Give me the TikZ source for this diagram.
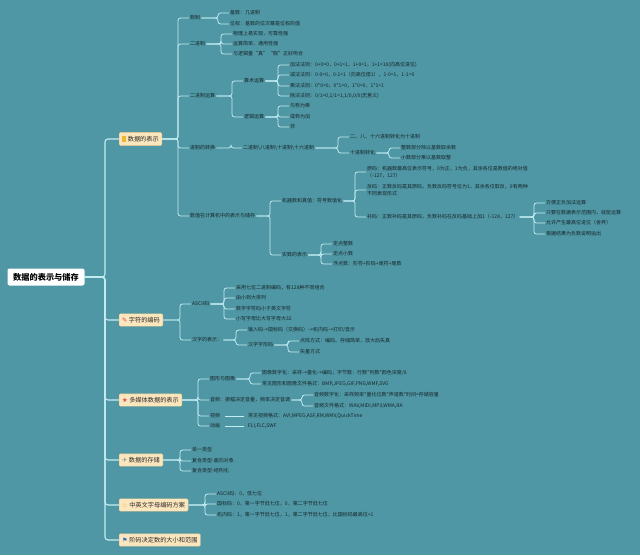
\documentclass[tikz,border=0pt]{standalone}
\usepackage{fontspec}
\setmainfont{Noto Sans CJK SC}
\newfontfamily\symf{DejaVu Sans}
\usetikzlibrary{calc}
\definecolor{bg}{HTML}{4F97A4}
\definecolor{lnc}{HTML}{C4ECF3}
\definecolor{txt}{HTML}{17262B}
\definecolor{boxfill}{HTML}{FBE6BE}
\definecolor{boxline}{HTML}{E3C58C}
\definecolor{boxtxt}{HTML}{2B2B2B}
\definecolor{iconyel}{HTML}{F2B430}
\definecolor{iconred}{HTML}{E0463A}
\definecolor{iconblue}{HTML}{2F6FC0}
\definecolor{icongray}{HTML}{7A8C96}
\tikzset{
  t/.style={anchor=west, inner xsep=1pt, inner ysep=0.5pt, font=\fontsize{5}{7}\selectfont, text=txt, align=left},
  box/.style={anchor=west, fill=boxfill, draw=boxline, line width=0.4pt, rounded corners=1.2pt, inner xsep=3pt, minimum height=12pt, font=\fontsize{6.2}{7}\selectfont, text=boxtxt},
  rootbox/.style={fill=white, rounded corners=2pt, minimum width=77pt, minimum height=17pt, font=\fontsize{8.2}{9}\selectfont\bfseries, text=black},
  conn/.style={draw=lnc, line width=0.8pt, rounded corners=2.5pt},
  mainconn/.style={draw=lnc, line width=1.1pt, rounded corners=3pt}
}
\newcommand\lk[3][11pt]{\draw[conn] (#2.east) -| ([xshift=-#1]#3.west) -- (#3.west);}
\newcommand\mlk[2]{\draw[mainconn] (#1.east) -| ([xshift=-14pt]#2.west) -- (#2.west);}
\newcommand\icbars{{\color{iconyel}\rule{1.4pt}{6pt}\hspace{0.8pt}\rule{1.4pt}{6pt}}\hspace{2pt}}
\newcommand\icsym[2]{{\symf\color{#1}#2}\hspace{1.5pt}}
\begin{document}
\begin{tikzpicture}[x=1pt,y=-1pt]
\fill[bg] (0,0) rectangle (640,555);
\useasboundingbox (0,0) rectangle (640,555);

% root
\node[rootbox] (root) at (46,277) {数据的表示与储存};

% branch boxes
\node[box] (b1) at (119,139) {\icbars 数据的表示};
\node[box] (b2) at (119,320) {\icsym{iconred}{✎}字符的编码};
\node[box] (b3) at (119,400) {\icsym{iconred}{★}多媒体数据的表示};
\node[box] (b4) at (119,460) {\icsym{icongray}{✈}数据的存储};
\node[box] (b5) at (119,505) {\icsym{iconyel}{☆}中英文字母编码方案};
\node[box] (b6) at (119,540) {\icsym{iconblue}{⚑}阶码决定数的大小和范围};

\mlk{root}{b1}
\mlk{root}{b2}
\mlk{root}{b3}
\mlk{root}{b4}
\mlk{root}{b5}
\mlk{root}{b6}

% ---------- branch 1
\node[t] (a1) at (189,18) {数制};
\node[t] (a11) at (229,13) {基数：几进制};
\node[t] (a12) at (229,24) {位权：基数的位次幂是位权的值};
\node[t] (a2) at (189,44) {二进制};
\node[t] (a21) at (232,34) {物理上易实现，可靠性强};
\node[t] (a22) at (232,44) {运算简单，通用性强};
\node[t] (a23) at (232,54) {与逻辑量“真”“假”正好吻合};
\node[t] (a3) at (189,96) {二进制运算};
\node[t] (a31) at (243,81) {算术运算};
\node[t] (a311) at (289,65) {加法法则：0+0=0，0+1=1，1+0=1，1+1=10(向高位进位)};
\node[t] (a312) at (289,75) {减法法则：0-0=0，0-1=1（向高位借1），1-0=1，1-1=0};
\node[t] (a313) at (289,86) {乘法法则：0*0=0，0*1=0，1*0=0，1*1=1};
\node[t] (a314) at (289,96) {除法法则：0/1=0,1/1=1,1/0,0/0(无意义)};
\node[t] (a32) at (243,117) {逻辑运算};
\node[t] (a321) at (289,106) {与称为乘};
\node[t] (a322) at (289,117) {或称为加};
\node[t] (a323) at (289,127) {非};
\node[t] (a4) at (189,148) {进制的转换};
\node[t] (a41) at (242,148) {二进制\textbackslash 八进制\textbackslash 十进制\textbackslash 十六进制};
\node[t] (a411) at (349,137) {二、八、十六进制转化为十进制};
\node[t] (a412) at (349,153) {十进制转化};
\node[t] (a4121) at (400,148) {整数部分除以基数取余数};
\node[t] (a4122) at (400,158) {小数部分乘以基数取整};
\node[t] (a5) at (189,216) {数值在计算机中的表示与储存};
\node[t] (a51) at (281,201) {机器数和真值：符号数值化};
\node[t] (a511) at (366,172) {原码：机器数最高位表示符号，0为正，1为负，其余各位是数值的绝对值\\（-127，127）};
\node[t] (a512) at (366,190) {反码：正数反码是其原码，负数反码符号位为1，其余各位取反，0有两种\\不同表现形式};
\node[t] (a513) at (366,217) {补码：正数补码是其原码，负数补码在反码基础上加1（-128，127）};
\node[t] (a5131) at (545,203) {方便正负加法运算};
\node[t] (a5132) at (545,213) {只要在数据表示范围内，就能运算};
\node[t] (a5133) at (545,223) {允许产生最高位进位（舍弃）};
\node[t] (a5134) at (545,234) {根据结果为负数说明溢出};
\node[t] (a52) at (281,255) {实数的表示};
\node[t] (a521) at (332,244) {定点整数};
\node[t] (a522) at (332,254) {定点小数};
\node[t] (a523) at (332,264) {浮点数：阶符+阶码+尾符+尾数};

\lk{b1}{a1} \lk{b1}{a2} \lk{b1}{a3} \lk{b1}{a4} \lk{b1}{a5}
\lk{a1}{a11} \lk{a1}{a12}
\lk{a2}{a21} \lk{a2}{a22} \lk{a2}{a23}
\lk{a3}{a31} \lk{a3}{a32}
\lk{a31}{a311} \lk{a31}{a312} \lk{a31}{a313} \lk{a31}{a314}
\lk{a32}{a321} \lk{a32}{a322} \lk{a32}{a323}
\lk{a4}{a41}
\lk{a41}{a411} \lk{a41}{a412}
\lk{a412}{a4121} \lk{a412}{a4122}
\lk{a5}{a51} \lk{a5}{a52}
\lk{a51}{a511} \lk{a51}{a512} \lk{a51}{a513}
\lk{a513}{a5131} \lk{a513}{a5132} \lk{a513}{a5133} \lk{a513}{a5134}
\lk{a52}{a521} \lk{a52}{a522} \lk{a52}{a523}

% ---------- branch 2
\node[t] (c1) at (191,304) {ASCII码};
\node[t] (c11) at (235,288) {采用七位二进制编码，有128种不同组合};
\node[t] (c12) at (235,298) {由小到大排列};
\node[t] (c13) at (235,309) {数字字符码小于英文字符};
\node[t] (c14) at (235,319) {小写字母比大写字母大32};
\node[t] (c2) at (191,340) {汉字的表示：};
\node[t] (c21) at (247,330) {输入码→国标码（交换码）→机内码→打印/显示};
\node[t] (c22) at (247,345) {汉字字形码};
\node[t] (c221) at (299,341) {点阵方式：编码、存储简单，放大后失真};
\node[t] (c222) at (299,352) {矢量方式};

\lk{b2}{c1} \lk{b2}{c2}
\lk{c1}{c11} \lk{c1}{c12} \lk{c1}{c13} \lk{c1}{c14}
\lk{c2}{c21} \lk{c2}{c22}
\lk{c22}{c221} \lk{c22}{c222}

% ---------- branch 3
\node[t] (d1) at (209,379) {图形与图像};
\node[t] (d11) at (261,373) {图像数字化：采样→量化→编码；字节数：行数*列数*颜色深度/8};
\node[t] (d12) at (261,384) {常见图形和图像文件格式：BMP,JPEG,GIF,PNG,WMF,SVG};
\node[t] (d2) at (209,400) {音频：振幅决定音量，频率决定音调};
\node[t] (d21) at (313,395) {音频数字化：采样频率*量化位数*声道数*时间=存储容量};
\node[t] (d22) at (313,406) {音频文件格式：WAV,MIDI,MP3,WMA,RA};
\node[t] (d3) at (209,416) {视频};
\node[t] (d31) at (247,416) {常见视频格式：AVI,MPEG,ASF,RM,WMV,QuickTime};
\node[t] (d4) at (209,426) {动画};
\node[t] (d41) at (247,426) {FLI,FLC,SWF};

\lk{b3}{d1} \lk{b3}{d2} \lk{b3}{d3} \lk{b3}{d4}
\lk{d1}{d11} \lk{d1}{d12}
\lk{d2}{d21} \lk{d2}{d22}
\draw[conn] (d3.east) ++(4pt,0) -- ([xshift=-3pt]d31.west);
\draw[conn] (d4.east) ++(4pt,0) -- ([xshift=-3pt]d41.west);

% ---------- branch 4
\node[t] (e1) at (191,450) {单一类型};
\node[t] (e2) at (191,461) {复合类型-面向对象};
\node[t] (e3) at (191,471) {复合类型-结构化};
\lk{b4}{e1} \lk{b4}{e2} \lk{b4}{e3}

% ---------- branch 5
\node[t] (f1) at (216,494) {ASCII码：0，低七位};
\node[t] (f2) at (216,504) {国标码：0，第一字节低七位，0，第二字节低七位};
\node[t] (f3) at (216,515) {机内码：1，第一字节低七位，1，第二字节低七位；比国标码最高位+1};
\lk{b5}{f1} \lk{b5}{f2} \lk{b5}{f3}

\end{tikzpicture}
\end{document}
